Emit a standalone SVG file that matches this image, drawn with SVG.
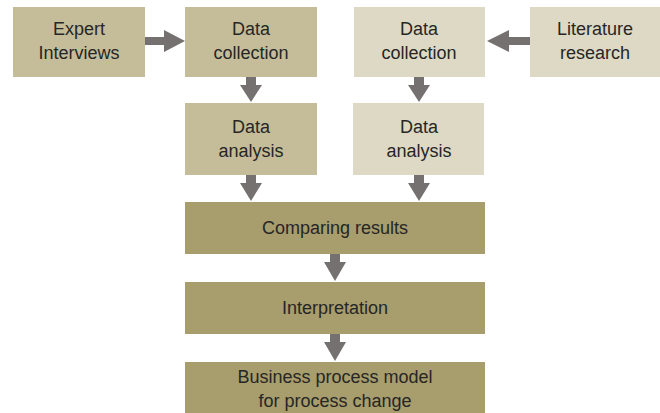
<svg xmlns="http://www.w3.org/2000/svg" width="660" height="413" viewBox="0 0 660 413">
<style>
.t{font-family:"Liberation Sans",Arial,sans-serif;font-size:18px;fill:#262626;text-anchor:middle}
.a{fill:#C5BD99}
.b{fill:#DDD9C4}
.c{fill:#A89D6C}
.arr{fill:#767171}
</style>
<rect width="660" height="413" fill="#ffffff"/>
<g id="expert"><rect class="a" x="13" y="7" width="132" height="70"/><text class="t" x="79" y="35">Expert</text><text class="t" x="79" y="59">Interviews</text></g>
<g id="dc-left"><rect class="a" x="185" y="7" width="132" height="70"/><text class="t" x="251" y="35">Data</text><text class="t" x="251" y="59">collection</text></g>
<g id="da-left"><rect class="a" x="185" y="103" width="132" height="72"/><text class="t" x="251" y="133">Data</text><text class="t" x="251" y="157">analysis</text></g>
<g id="dc-right"><rect class="b" x="354" y="7" width="131" height="70"/><text class="t" x="419" y="35">Data</text><text class="t" x="419" y="59">collection</text></g>
<g id="literature"><rect class="b" x="530" y="7" width="130" height="70"/><text class="t" x="595" y="35">Literature</text><text class="t" x="595" y="59">research</text></g>
<g id="da-right"><rect class="b" x="353" y="103" width="131" height="72"/><text class="t" x="419" y="133">Data</text><text class="t" x="419" y="157">analysis</text></g>
<g id="comparing"><rect class="c" x="185" y="202" width="300" height="52"/><text class="t" x="335" y="234">Comparing results</text></g>
<g id="interpretation"><rect class="c" x="185" y="282" width="300" height="52"/><text class="t" x="335" y="314">Interpretation</text></g>
<g id="bpm"><rect class="c" x="185" y="362" width="300" height="51"/><text class="t" x="335" y="383">Business process model</text><text class="t" x="335" y="407">for process change</text></g>
<g id="connectors">
<polygon class="arr" points="145,37 164,37 164,30 185,41 164,52 164,45 145,45"/>
<polygon class="arr" points="530,37 509,37 509,30 487,41 509,52 509,45 530,45"/>
<polygon class="arr" points="246,77 256,77 256,85 262,85 251,102 240,85 246,85"/>
<polygon class="arr" points="414,77 424,77 424,85 430,85 419,102 408,85 414,85"/>
<polygon class="arr" points="246,175 256,175 256,183 262,183 251,201 240,183 246,183"/>
<polygon class="arr" points="414,175 424,175 424,183 430,183 419,201 408,183 414,183"/>
<polygon class="arr" points="330,254 340,254 340,262 346,262 335,281 324,262 330,262"/>
<polygon class="arr" points="330,334 340,334 340,342 346,342 335,361 324,342 330,342"/>
</g>
</svg>
